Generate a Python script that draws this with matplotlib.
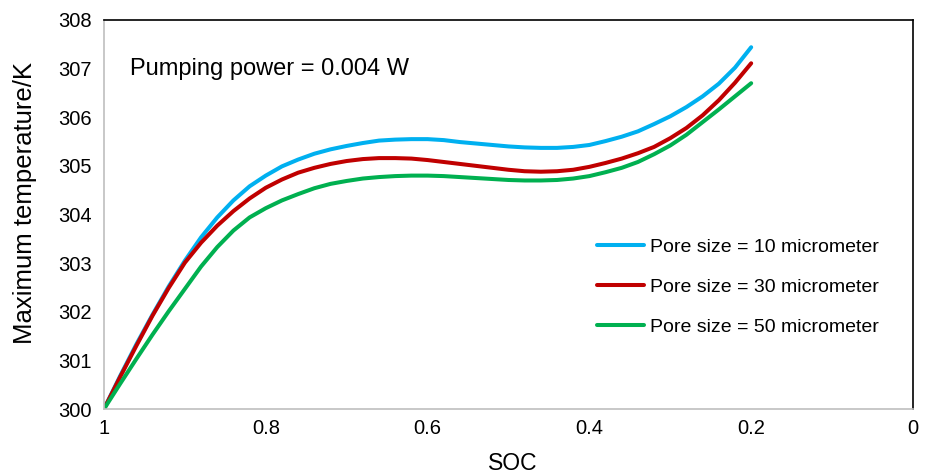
import matplotlib
matplotlib.use("Agg")
import matplotlib.pyplot as plt

plt.rcParams['font.family'] = ['Liberation Sans', 'DejaVu Sans']

# state of charge (x axis, reversed)
soc = [1.00, 0.98, 0.96, 0.94, 0.92, 0.90, 0.88, 0.86, 0.84, 0.82,
       0.80, 0.78, 0.76, 0.74, 0.72, 0.70, 0.68, 0.66, 0.64, 0.62,
       0.60, 0.58, 0.56, 0.54, 0.52, 0.50, 0.48, 0.46, 0.44, 0.42,
       0.40, 0.38, 0.36, 0.34, 0.32, 0.30, 0.28, 0.26, 0.24, 0.22, 0.20]

# maximum temperature (K)
t_10um = [300.00, 300.68, 301.33, 301.94, 302.52, 303.05, 303.53, 303.94, 304.29, 304.58,
          304.80, 304.99, 305.13, 305.25, 305.34, 305.41, 305.47, 305.52, 305.54, 305.55,
          305.55, 305.53, 305.49, 305.46, 305.43, 305.40, 305.38, 305.37, 305.37, 305.39,
          305.43, 305.51, 305.60, 305.71, 305.86, 306.02, 306.21, 306.43, 306.69, 307.02, 307.44]
t_30um = [300.00, 300.66, 301.30, 301.92, 302.49, 303.01, 303.42, 303.77, 304.07, 304.33,
          304.55, 304.72, 304.86, 304.96, 305.04, 305.10, 305.14, 305.16, 305.16, 305.15,
          305.12, 305.08, 305.04, 305.00, 304.96, 304.92, 304.89, 304.88, 304.89, 304.92,
          304.98, 305.06, 305.15, 305.26, 305.39, 305.57, 305.78, 306.04, 306.35, 306.71, 307.11]
t_50um = [300.00, 300.52, 301.03, 301.53, 302.01, 302.47, 302.93, 303.33, 303.67, 303.94,
          304.13, 304.29, 304.42, 304.54, 304.63, 304.69, 304.74, 304.77, 304.79, 304.80,
          304.80, 304.79, 304.77, 304.75, 304.73, 304.71, 304.70, 304.70, 304.71, 304.74,
          304.79, 304.87, 304.96, 305.08, 305.24, 305.42, 305.64, 305.90, 306.16, 306.43, 306.70]

labels = ['Pore size = 10 micrometer', 'Pore size = 30 micrometer', 'Pore size = 50 micrometer']
colors = ['#00B0F0', '#C00000', '#00B050']

fig = plt.figure(figsize=(9.3, 4.75), dpi=100)
ax = fig.add_axes([0.1118, 0.1389, 0.8699, 0.8190])

for t, lab, c in zip([t_10um, t_30um, t_50um], labels, colors):
    ax.plot(soc, t, color=c, lw=2.9, label=lab, solid_capstyle='round')

ax.set_xlim(1, 0)
ax.set_ylim(300, 308)
ax.set_xticks([1, 0.8, 0.6, 0.4, 0.2, 0])
ax.set_xticklabels(['1', '0.8', '0.6', '0.4', '0.2', '0'])
ax.set_yticks(range(300, 309))
ax.tick_params(length=0, labelsize=14.5)
ax.tick_params(axis='x', pad=7.5)
ax.tick_params(axis='y', pad=8.6)

for side in ['left', 'bottom']:
    ax.spines[side].set_color('#BFBFBF')
    ax.spines[side].set_linewidth(1.2)
for side in ['top', 'right']:
    ax.spines[side].set_color('black')
    ax.spines[side].set_linewidth(1.2)

ax.set_xlabel('SOC', fontsize=16.5)
ax.xaxis.set_label_coords(0.505, -0.11)
ax.set_ylabel('Maximum temperature/K', fontsize=18.5)
ax.yaxis.set_label_coords(-0.083, 0.53)

ax.text(0.968, 307.0, 'Pumping power = 0.004 W', fontsize=17, va='center', ha='left')

ax.legend(loc='upper left', bbox_to_anchor=(597 / 930, 1 - 238 / 475), bbox_transform=fig.transFigure,
          frameon=False, fontsize=14, borderpad=0, borderaxespad=0,
          handlelength=2.4, handletextpad=0.3, labelspacing=1.16)

fig.savefig('out.png', dpi=100)
